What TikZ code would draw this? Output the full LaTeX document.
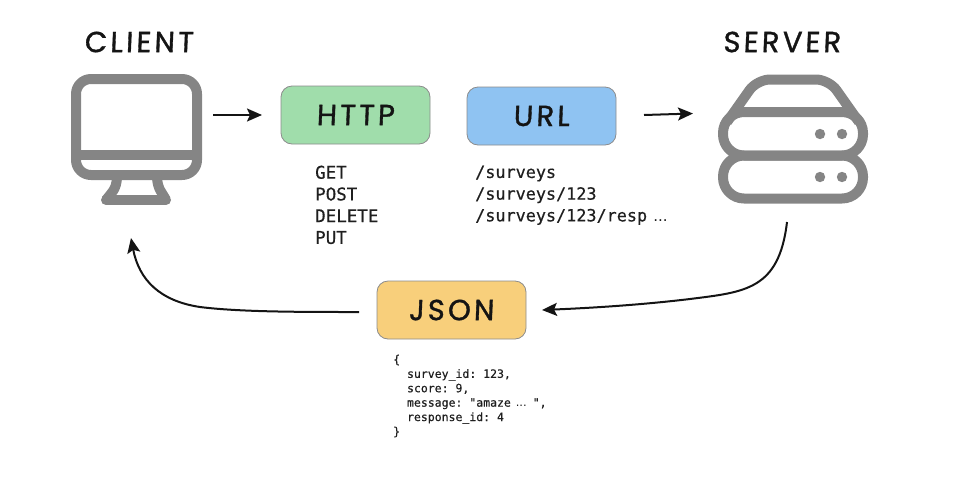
\documentclass[tikz,border=0pt]{standalone}
\usepackage{fontspec}
\usetikzlibrary{arrows.meta}
\setmainfont{DejaVu Sans}
\setmonofont[FakeBold=0.5]{DejaVu Sans Mono}
\newfontfamily\handfont[FakeSlant=0.04,FakeBold=1.2,LetterSpace=11]{Poppins}
\definecolor{icongrey}{HTML}{858585}
\definecolor{inkblack}{HTML}{141414}
\definecolor{httpfill}{HTML}{A0DDAB}
\definecolor{urlfill}{HTML}{8FC3F2}
\definecolor{jsonfill}{HTML}{F8CF7B}
\tikzset{
  x=1pt, y=-1pt,
  icon/.style={draw=icongrey, line width=10pt, line join=round},
  stem/.style={draw=icongrey, line width=10pt},
  flow/.style={draw=inkblack, line width=2pt, -{Stealth[length=15pt,width=13pt,inset=3pt]}},
  badge/.style={minimum width=149pt, minimum height=58pt, rounded corners=11pt, inner sep=0pt,
    line width=0.8pt, font=\handfont\fontsize{29}{29}\selectfont, text=inkblack},
  title/.style={inner sep=0pt, font=\handfont\fontsize{29}{29}\selectfont, text=inkblack},
  codelist/.style={inner sep=0pt, anchor=north west, align=left, text=black!88,
    font=\ttfamily\fontsize{17.5}{21.7}\selectfont},
  payload/.style={inner sep=0pt, anchor=north west, align=left, text=black!88,
    font=\ttfamily\fontsize{11.5}{14.4}\selectfont}
}
\begin{document}
\begin{tikzpicture}
\useasboundingbox (0,0) rectangle (960,480);

% desktop computer icon
\draw[icon, rounded corners=15pt] (76,79) rectangle (197,175);
\draw[icon] (76,155) -- (197,155);
\draw[stem] (117,178) .. controls (116,190) and (112,192) .. (106,200);
\draw[stem] (157,178) .. controls (158,190) and (162,192) .. (166,200);
\draw[icongrey, line width=10pt, line cap=round] (106,200) -- (166,200);

% server stack icon
\draw[icon, rounded corners=21pt] (723,112) rectangle (863,155.5);
\draw[icon, rounded corners=21pt] (723,155.5) rectangle (863,198.5);
\draw[icon, rounded corners=13pt] (727,122) -- (757,79.5) -- (829,79.5) -- (859,122);
\fill[icongrey] (820,134) circle (5.2pt) (842,134) circle (5.2pt)
                (820,177) circle (5.2pt) (842,177) circle (5.2pt);

% headings
\node[title] (client) at (139,42) {CLIENT};
\node[title] (server) at (782,42) {SERVER};

% request and response boxes
\node[badge, fill=httpfill, draw=black!45] (http) at (355.5,115) {HTTP};
\node[badge, fill=urlfill, draw=black!45] (url) at (541.5,116) {URL};
\node[badge, fill=jsonfill, draw=black!45] (json) at (451.5,310) {JSON};

% request methods, paths and response body
\node[codelist] (methods) at (315,165.5) {GET\\POST\\DELETE\\PUT};
\node[codelist, font=\ttfamily\fontsize{16.8}{21.7}\selectfont] (paths) at (475,165.5)
  {/surveys\\/surveys/123\\/surveys/123/resp\kern-4pt\ {\rmfamily\fontsize{15}{15}\selectfont ...}};
\node[payload] (body) at (393,354.5)
  {\{\\\ \ survey\_id: 123,\\\ \ score: 9,\\\ \ message: "amaze\kern-2pt\ {\rmfamily ...}\kern-1pt\ ",\\\ \ response\_id: 4\\\}};

% connector ends beside the icons
\coordinate (clientout) at (213,115);
\coordinate (clientin) at (131,238);
\coordinate (serverin) at (693,113.5);
\coordinate (serverout) at (787,222);
\coordinate (jsonout) at (359,312);
\coordinate (jsonin) at (542,310);
\coordinate (httpin) at (262,115);
\coordinate (urlout) at (644,115);

\draw[flow] (clientout) -- (httpin);
\draw[flow] (urlout) -- (serverin);
\draw[flow] (serverout) .. controls (779,290) and (745,292) .. (690,299) .. controls (640,305) and (590,308) .. (jsonin);
\draw[flow] (jsonout) .. controls (300,312) and (240,312) .. (200,307) .. controls (160,301) and (139,280) .. (clientin);
\end{tikzpicture}
\end{document}
